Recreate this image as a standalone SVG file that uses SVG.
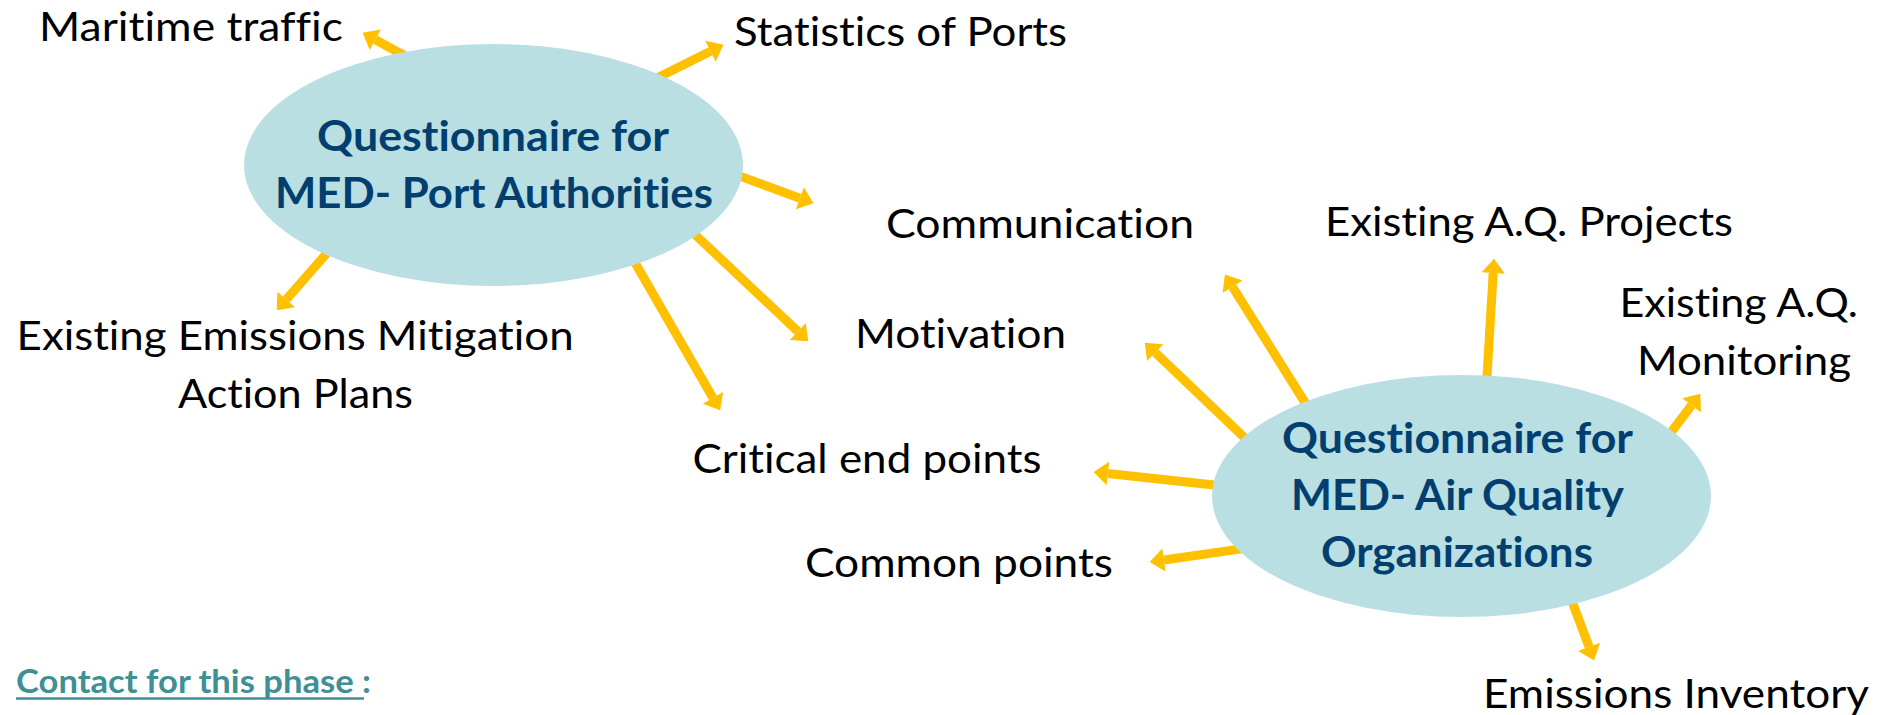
<svg xmlns="http://www.w3.org/2000/svg" width="1890" height="715" viewBox="0 0 1890 715">
<style>
.bg{fill:#ffffff}
.node ellipse{fill:#B9DFE3}
text{font-variant-ligatures:none}
.title{font-family:Lato,'Open Sans','Liberation Sans',sans-serif;font-weight:bold;font-size:42px;fill:#023F6F}
.lbl{font-family:Lato,'Open Sans','Liberation Sans',sans-serif;font-size:40px;fill:#000000}
.contact{font-family:Lato,'Open Sans','Liberation Sans',sans-serif;font-weight:bold;font-size:32px;fill:#3E9095}
.conn line{stroke:#FFC000;stroke-width:9;fill:none;marker-end:url(#ah)}
</style>
<defs>
<marker id="ah" markerUnits="strokeWidth" markerWidth="2" markerHeight="3" refX="0" refY="1.3" orient="auto" overflow="visible">
<path d="M0,0 L1.6,1.3 L0,2.6 z" fill="#FFC000"/>
</marker>
</defs>
<rect class="bg" x="0" y="0" width="1890" height="715"/>
<g id="connectors" class="conn">
<line x1="409" y1="58" x2="375.3" y2="39.7"/>
<line x1="652" y1="80.5" x2="710.5" y2="51.3"/>
<line x1="733" y1="173.6" x2="799.9" y2="198.2"/>
<line x1="688" y1="228" x2="797.8" y2="331.4"/>
<line x1="630" y1="254" x2="713" y2="397.9"/>
<line x1="333.6" y1="245.5" x2="286.2" y2="299.5"/>
<line x1="1310" y1="410.5" x2="1232.5" y2="286.8"/>
<line x1="1249" y1="442" x2="1155.2" y2="352.6"/>
<line x1="1223" y1="486" x2="1107.9" y2="473.5"/>
<line x1="1250" y1="547.6" x2="1163.9" y2="560"/>
<line x1="1486.4" y1="386" x2="1493.2" y2="273"/>
<line x1="1666" y1="439" x2="1691.6" y2="405.2"/>
<line x1="1569.5" y1="594.6" x2="1589.1" y2="646.9"/>
</g>
<g id="port-authorities" class="node">
<ellipse cx="493.5" cy="165" rx="249.5" ry="121"/>
<text class="title" x="317" y="151" textLength="352" lengthAdjust="spacingAndGlyphs">Questionnaire for</text>
<text class="title" x="275" y="208" textLength="438" lengthAdjust="spacingAndGlyphs">MED- Port Authorities</text>
</g>
<g id="air-quality" class="node">
<ellipse cx="1461.5" cy="496" rx="249.5" ry="121"/>
<text class="title" x="1282" y="453" textLength="351" lengthAdjust="spacingAndGlyphs">Questionnaire for</text>
<text class="title" x="1291" y="510" textLength="333" lengthAdjust="spacingAndGlyphs">MED- Air Quality</text>
<text class="title" x="1321" y="567" textLength="272" lengthAdjust="spacingAndGlyphs">Organizations</text>
</g>
<g id="maritime-traffic"><text class="lbl" x="39" y="41" textLength="304" lengthAdjust="spacingAndGlyphs">Maritime traffic</text></g>
<g id="statistics-of-ports"><text class="lbl" x="734" y="46" textLength="333" lengthAdjust="spacingAndGlyphs">Statistics of Ports</text></g>
<g id="communication"><text class="lbl" x="886" y="238" textLength="308" lengthAdjust="spacingAndGlyphs">Communication</text></g>
<g id="motivation"><text class="lbl" x="855" y="348" textLength="211" lengthAdjust="spacingAndGlyphs">Motivation</text></g>
<g id="existing-emissions-mitigation">
<text class="lbl" x="16.6" y="350" textLength="557" lengthAdjust="spacingAndGlyphs">Existing Emissions Mitigation</text>
<text class="lbl" x="178" y="408" textLength="235" lengthAdjust="spacingAndGlyphs">Action Plans</text>
</g>
<g id="critical-end-points"><text class="lbl" x="692.5" y="473" textLength="349" lengthAdjust="spacingAndGlyphs">Critical end points</text></g>
<g id="common-points"><text class="lbl" x="805" y="577" textLength="308" lengthAdjust="spacingAndGlyphs">Common points</text></g>
<g id="existing-aq-projects"><text class="lbl" x="1325" y="236" textLength="408" lengthAdjust="spacingAndGlyphs">Existing A.Q. Projects</text></g>
<g id="existing-aq-monitoring">
<text class="lbl" x="1619.5" y="317" textLength="238.5" lengthAdjust="spacingAndGlyphs">Existing A.Q.</text>
<text class="lbl" x="1637" y="375" textLength="214" lengthAdjust="spacingAndGlyphs">Monitoring</text>
</g>
<g id="emissions-inventory"><text class="lbl" x="1483" y="708" textLength="386" lengthAdjust="spacingAndGlyphs">Emissions Inventory</text></g>
<g id="contact">
<text class="contact" x="16" y="693" textLength="355" lengthAdjust="spacingAndGlyphs">Contact for this phase :</text>
<line x1="16" y1="698.5" x2="364" y2="698.5" stroke="#3E9095" stroke-width="2.5"/>
</g>
</svg>
